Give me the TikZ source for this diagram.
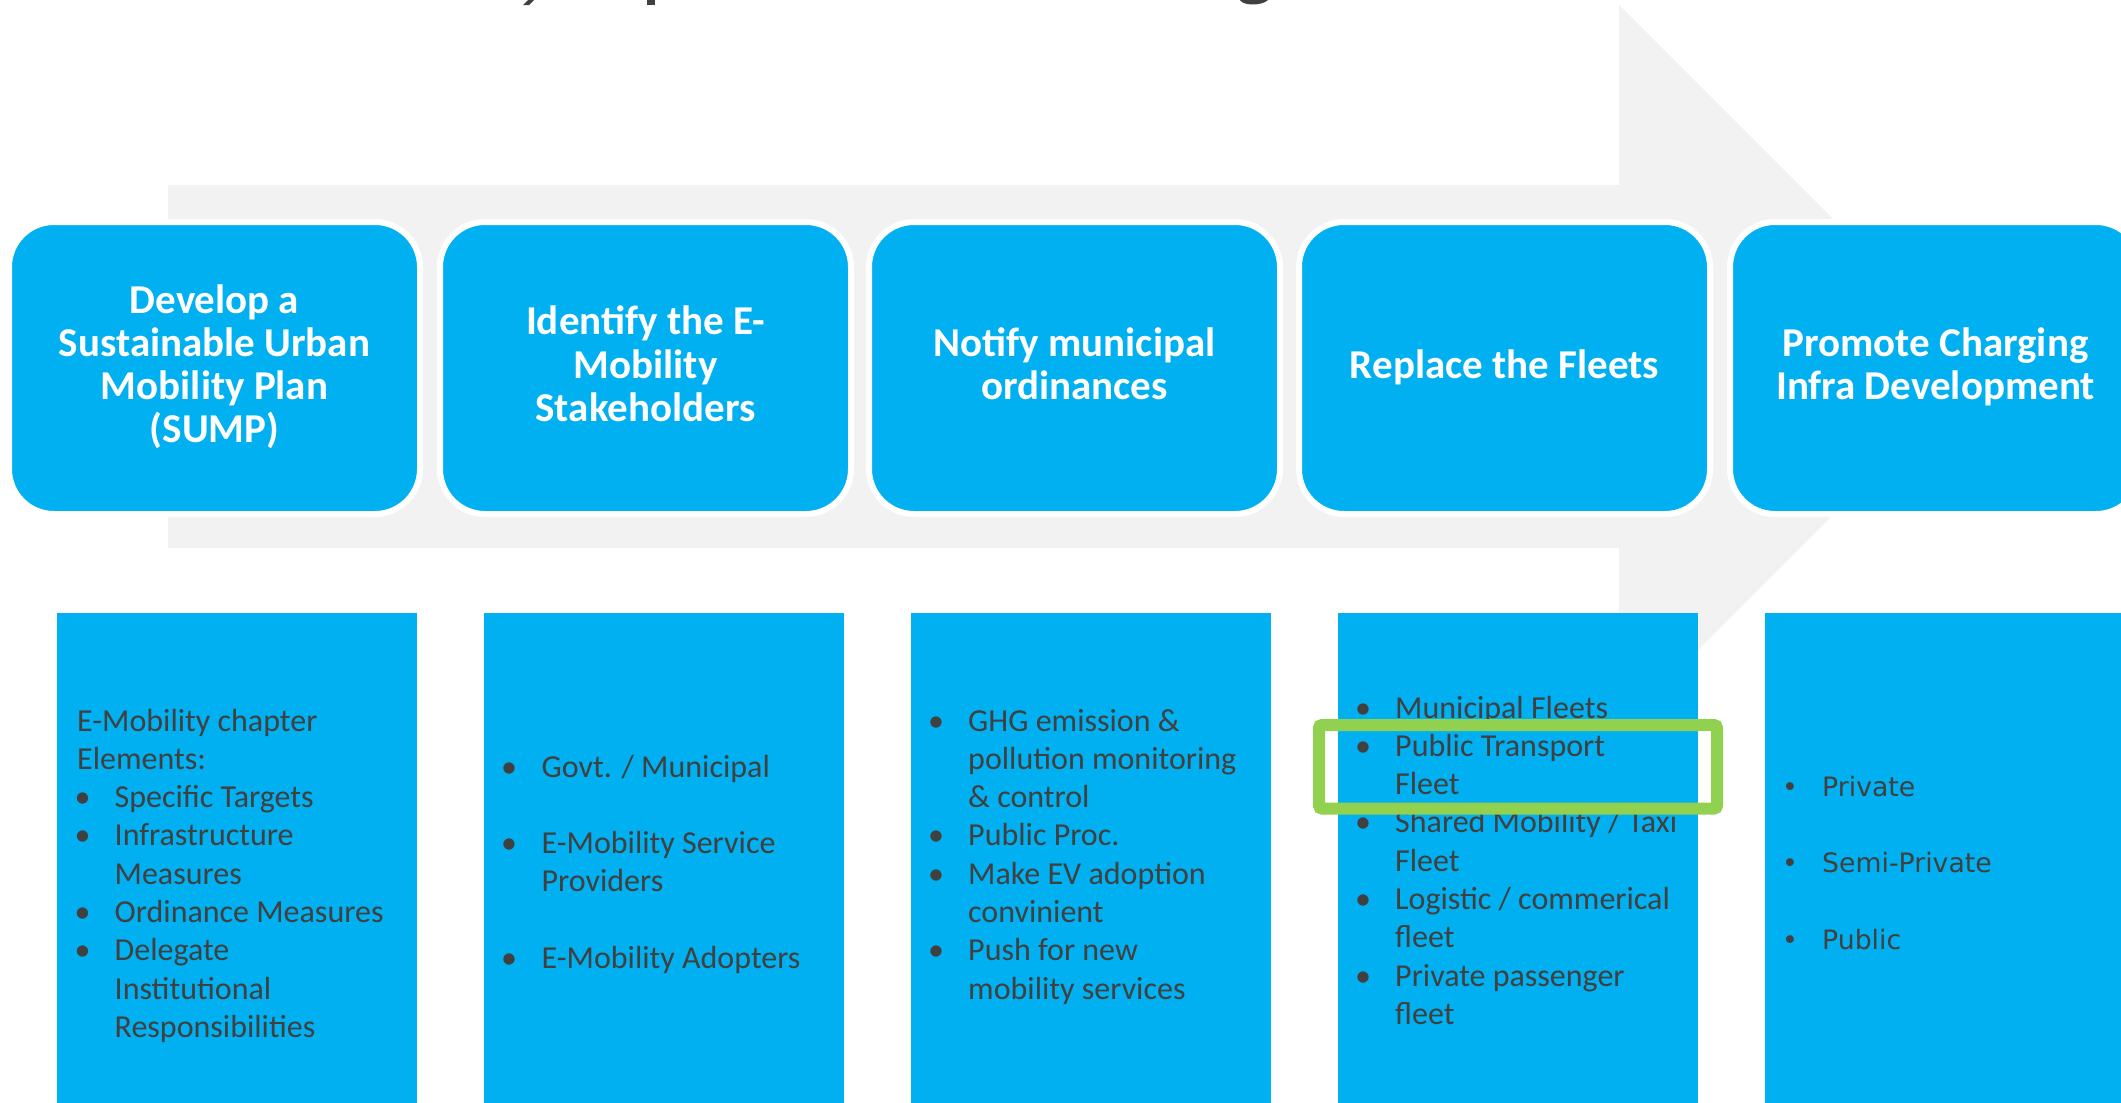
\documentclass[tikz,border=0pt]{standalone}
\usepackage{fontspec}
\setmainfont{Carlito}
\newfontfamily\dejavu{DejaVu Sans}
\definecolor{boxblue}{HTML}{00B0F0}
\definecolor{arrowgray}{HTML}{F2F2F2}
\definecolor{txtdark}{HTML}{404040}
\definecolor{hlgreen}{HTML}{92D050}
\newcommand\toplines[4]{\foreach \ltext [count=\li from 0] in {#4} {\node[toptxt] (#1-\li) at (#2,-#3-\li*43.3) {\ltext};}}
\begin{document}
\begin{tikzpicture}[x=1pt,y=1pt,
  topbox/.style={rectangle, rounded corners=45pt, fill=boxblue, draw=white, line width=6pt, minimum width=411pt, minimum height=292pt, inner sep=0pt},
  botbox/.style={rectangle, fill=boxblue, draw=none, anchor=north west, minimum width=360pt, minimum height=500pt, inner sep=0pt},
  toptxt/.style={anchor=base, inner sep=0pt, text=white, font=\fontsize{41}{43.3}\selectfont\bfseries},
  btxt/.style={anchor=base west, inner sep=0pt, text=txtdark, font=\fontsize{32}{38.3}\selectfont},
  bbul/.style={anchor=base, inner sep=0pt, text=txtdark, font=\fontsize{32}{38.3}\selectfont},
  ctxt/.style={anchor=base west, inner sep=0pt, text=txtdark, font=\dejavu\fontsize{26.7}{32}\selectfont},
  cbul/.style={anchor=base, inner sep=0pt, text=txtdark, font=\dejavu\fontsize{26.7}{32}\selectfont},
  hlbox/.style={rectangle, draw=hlgreen, line width=12pt, rounded corners=3pt, minimum width=398pt, minimum height=83.5pt, inner sep=0pt}
]
\useasboundingbox (0,0) rectangle (2121,-1103);
\clip (0,0) rectangle (2121,-1103);
% title descenders (cut off)
\fill[txtdark] (528,0) -- (534,0) -- (529,-5) -- (523,-5) -- cycle;
\fill[txtdark] (647,0) rectangle (655,-5);
\fill[txtdark] (1240,0) .. controls (1243,-6) and (1262,-6) .. (1268,0) -- cycle;
% background arrow
\fill[arrowgray] (168,-185) -- (1619,-185) -- (1619,-5) -- (1981,-367) -- (1619,-729) -- (1619,-548) -- (168,-548) -- cycle;
% top boxes
\node[topbox] (s1) at (214.5,-368) {};
\node[topbox] (s2) at (645.5,-368) {};
\node[topbox] (s3) at (1074.5,-368) {};
\node[topbox] (s4) at (1504.5,-368) {};
\node[topbox] (s5) at (1935.5,-368) {};
\toplines{t1}{214.5}{313}{Develop a,Sustainable Urban,Mobility Plan,{(SUMP)}}
\toplines{t2}{645.5}{334.7}{Identify the E-,Mobility,Stakeholders}
\toplines{t3}{1074.5}{356.35}{Notify municipal,ordinances}
\toplines{t4}{1504.5}{378}{Replace the Fleets}
\toplines{t5}{1935.5}{356.35}{Promote Charging,Infra Development}
% bottom boxes
\node[botbox] (d1) at (57,-613) {};
\node[botbox] (d2) at (484,-613) {};
\node[botbox] (d3) at (911,-613) {};
\node[botbox] (d4) at (1338,-613) {};
\node[botbox] (d5) at (1765,-613) {};
% box 1 text
\node[btxt] (a0) at (77,-731) {E-Mobility chapter};
\node[btxt] (a1) at (77,-769.3) {Elements:};
\node[bbul] (ab2) at (82.5,-807.6) {•};
\node[btxt] (a2) at (114.5,-807.6) {Specific Targets};
\node[bbul] (ab3) at (82.5,-845.9) {•};
\node[btxt] (a3) at (114.5,-845.9) {Infrastructure};
\node[btxt] (a4) at (114.5,-884.2) {Measures};
\node[bbul] (ab5) at (82.5,-922.5) {•};
\node[btxt] (a5) at (114.5,-922.5) {Ordinance Measures};
\node[bbul] (ab6) at (82.5,-960.8) {•};
\node[btxt] (a6) at (114.5,-960.8) {Delegate};
\node[btxt] (a7) at (114.5,-999.1) {Institutional};
\node[btxt] (a8) at (114.5,-1037.4) {Responsibilities};
% box 2 text
\node[bbul] (bb0) at (509,-777) {•};
\node[btxt] (b0) at (541.5,-777) {Govt. / Municipal};
\node[bbul] (bb2) at (509,-853.6) {•};
\node[btxt] (b2) at (541.5,-853.6) {E-Mobility Service};
\node[btxt] (b3) at (541.5,-891.9) {Providers};
\node[bbul] (bb5) at (509,-968.5) {•};
\node[btxt] (b5) at (541.5,-968.5) {E-Mobility Adopters};
% box 3 text
\node[bbul] (cb0) at (936,-731) {•};
\node[btxt] (c0) at (968,-731) {GHG emission \&};
\node[btxt] (c1) at (968,-769.3) {pollution monitoring};
\node[btxt] (c2) at (968,-807.6) {\& control};
\node[bbul] (cb3) at (936,-845.9) {•};
\node[btxt] (c3) at (968,-845.9) {Public Proc.};
\node[bbul] (cb4) at (936,-884.2) {•};
\node[btxt] (c4) at (968,-884.2) {Make EV adoption};
\node[btxt] (c5) at (968,-922.5) {convinient};
\node[bbul] (cb6) at (936,-960.8) {•};
\node[btxt] (c6) at (968,-960.8) {Push for new};
\node[btxt] (c7) at (968,-999.1) {mobility services};
% box 4 text
\node[bbul] (eb0) at (1363,-718) {•};
\node[btxt] (e0) at (1395,-718) {Municipal Fleets};
\node[bbul] (eb1) at (1363,-756.3) {•};
\node[btxt] (e1) at (1395,-756.3) {Public Transport};
\node[btxt] (e2) at (1395,-794.6) {Fleet};
\node[bbul] (eb3) at (1363,-832.9) {•};
\node[btxt] (e3) at (1395,-832.9) {Shared Mobility / Taxi};
\node[btxt] (e4) at (1395,-871.2) {Fleet};
\node[bbul] (eb5) at (1363,-909.5) {•};
\node[btxt] (e5) at (1395,-909.5) {Logistic / commerical};
\node[btxt] (e6) at (1395,-947.8) {fleet};
\node[bbul] (eb7) at (1363,-986.1) {•};
\node[btxt] (e7) at (1395,-986.1) {Private passenger};
\node[btxt] (e8) at (1395,-1024.4) {fleet};
% box 5 text
\node[cbul] (fb0) at (1790,-796) {•};
\node[ctxt] (f0) at (1822,-796) {Private};
\node[cbul] (fb1) at (1790,-872.6) {•};
\node[ctxt] (f1) at (1822,-872.6) {Semi-Private};
\node[cbul] (fb2) at (1790,-949.2) {•};
\node[ctxt] (f2) at (1822,-949.2) {Public};
% highlight
\node[hlbox] (hl) at (1518,-766.75) {};
\end{tikzpicture}
\end{document}
